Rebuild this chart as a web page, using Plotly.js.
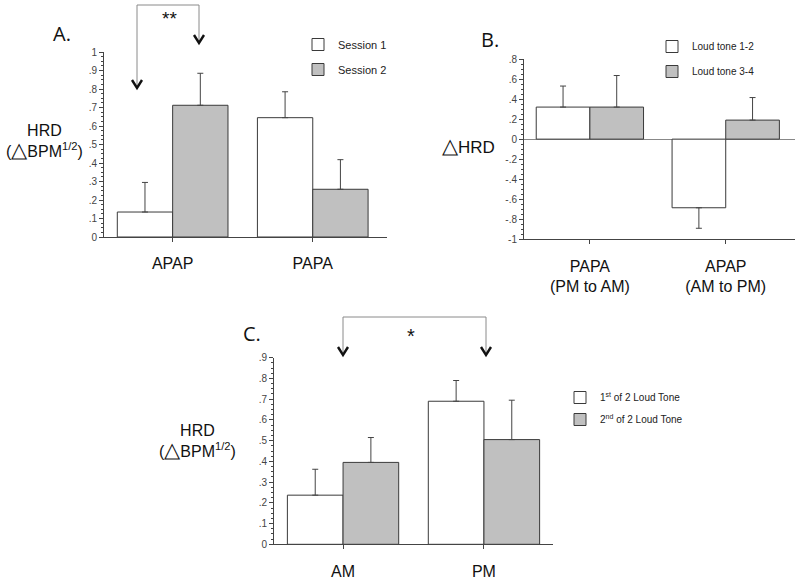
<!DOCTYPE html>
<html>
<head>
<meta charset="utf-8">
<script src="https://cdn.plot.ly/plotly-3.0.1.min.js"></script>
<style>html,body{margin:0;padding:0;background:#fff;}#chart{width:800px;height:579px;}</style>
</head>
<body>
<div id="chart"></div>
<script>
// ---------- data ----------
const catsA = ['APAP', 'PAPA'];
const sessA1 = [0.135, 0.645];
const sessA2 = [0.712, 0.258];
const errA1 = [0.16, 0.14];
const errA2 = [0.173, 0.16];

const catsB = ['PAPA<br>(PM to AM)', 'APAP<br>(AM to PM)'];
const toneB12 = [0.32, -0.685];
const toneB34 = [0.32, 0.19];
const errB12 = [0.21, 0.205];
const errB34 = [0.315, 0.225];

const catsC = ['AM', 'PM'];
const firstC = [0.237, 0.69];
const secondC = [0.395, 0.505];
const errC1 = [0.125, 0.10];
const errC2 = [0.12, 0.19];

const tickValsA = [0, 0.1, 0.2, 0.3, 0.4, 0.5, 0.6, 0.7, 0.8, 0.9, 1];
const tickTextA = ['0', '.1', '.2', '.3', '.4', '.5', '.6', '.7', '.8', '.9', '1'];
const tickValsB = [-1, -0.8, -0.6, -0.4, -0.2, 0, 0.2, 0.4, 0.6, 0.8];
const tickTextB = ['-1', '-.8', '-.6', '-.4', '-.2', '0', '.2', '.4', '.6', '.8'];
const tickValsC = [0, 0.1, 0.2, 0.3, 0.4, 0.5, 0.6, 0.7, 0.8, 0.9];
const tickTextC = ['0', '.1', '.2', '.3', '.4', '.5', '.6', '.7', '.8', '.9'];

// ---------- helpers ----------
const W = 800, H = 579;
const px = x => x / W;
const py = y => 1 - y / H;
const FONT = 'Liberation Sans';
const WHITE = '#ffffff', GRAY = '#c0c0c0', EDGE = '#3a3a3a', AX = '#444444';

function errUp(vals, errs) { return vals.map((v, i) => v >= 0 ? errs[i] : 0); }
function errDown(vals, errs) { return vals.map((v, i) => v < 0 ? errs[i] : 0); }

function barTrace(x, y, err, name, fill, xa, ya, lg, grp) {
  return {
    type: 'bar', x: x, y: y, name: name,
    xaxis: xa, yaxis: ya, legend: lg, legendgroup: grp,
    marker: {color: fill, line: {color: EDGE, width: 1}},
    error_y: {type: 'data', symmetric: false, array: errUp(y, err), arrayminus: errDown(y, err),
              color: AX, thickness: 1, width: 3},
    hoverinfo: 'skip'
  };
}

const data = [
  barTrace(catsA, sessA1, errA1, 'Session 1', WHITE, 'x', 'y', 'legend', 'a1'),
  barTrace(catsA, sessA2, errA2, 'Session 2', GRAY, 'x', 'y', 'legend', 'a2'),
  barTrace(catsB, toneB12, errB12, 'Loud tone 1-2', WHITE, 'x2', 'y2', 'legend2', 'b1'),
  barTrace(catsB, toneB34, errB34, 'Loud tone 3-4', GRAY, 'x2', 'y2', 'legend2', 'b2'),
  barTrace(catsC, firstC, errC1, '1<sup>st</sup> of 2 Loud Tone', WHITE, 'x3', 'y3', 'legend3', 'c1'),
  barTrace(catsC, secondC, errC2, '2<sup>nd</sup> of 2 Loud Tone', GRAY, 'x3', 'y3', 'legend3', 'c2')
];

function xAxis(domain, range, anchor) {
  return {
    domain: domain, range: range, anchor: anchor, type: 'category',
    showline: true, linecolor: AX, linewidth: 1, mirror: false,
    ticks: 'outside', ticklen: 4, tickcolor: AX, ticklabelstandoff: 8,
    tickfont: {family: FONT, size: 16, color: '#111'},
    showgrid: false, zeroline: false, fixedrange: true
  };
}
function yAxis(domain, range, anchor, tv, tt, minorStep, zl) {
  return {
    domain: domain, range: range, anchor: anchor,
    tickmode: 'array', tickvals: tv, ticktext: tt,
    showline: true, linecolor: AX, linewidth: 1,
    ticks: 'outside', ticklen: 4, tickcolor: AX,
    minor: {tickmode: 'linear', tick0: 0, dtick: minorStep, ticks: 'outside', ticklen: 2, tickcolor: AX},
    tickfont: {family: FONT, size: 10, color: '#444'},
    showgrid: false, zeroline: !!zl, zerolinecolor: '#888', zerolinewidth: 1, fixedrange: true
  };
}

const lineStyle = {color: '#8a8a8a', width: 1};
function seg(x0, y0, x1, y1) {
  return {type: 'line', xref: 'paper', yref: 'paper', x0: px(x0), y0: py(y0), x1: px(x1), y1: py(y1), line: lineStyle};
}
// chevron arrowhead pointing down with its tip at (x, y)
function chevron(x, y) {
  const p = 'M' + px(x - 5) + ',' + py(y - 8) + ' L' + px(x) + ',' + py(y) + ' L' + px(x + 5) + ',' + py(y - 8);
  return {type: 'path', xref: 'paper', yref: 'paper', path: p, line: {color: '#111', width: 2.4}};
}
function label(x, y, text, size, family, xanchor) {
  return {xref: 'paper', yref: 'paper', x: px(x), y: py(y), text: text, showarrow: false,
          xanchor: xanchor || 'center', yanchor: 'middle',
          font: {family: family || FONT, size: size, color: '#111'}};
}

const legendBase = {
  xanchor: 'left', yanchor: 'top', bgcolor: 'rgba(0,0,0,0)', borderwidth: 0,
  traceorder: 'grouped', itemclick: false, itemdoubleclick: false
};

const TRI = '<span style="font-size:21px">△</span>';

const layout = {
  width: W, height: H,
  margin: {l: 0, r: 0, t: 0, b: 0},
  paper_bgcolor: '#ffffff', plot_bgcolor: 'rgba(0,0,0,0)',
  barmode: 'group', bargap: 0.21, bargroupgap: 0,
  showlegend: true,
  xaxis: xAxis([px(104), px(387)], [-0.49, 1.53], 'y'),
  yaxis: yAxis([py(237), py(52)], [0, 1], 'x', tickValsA, tickTextA, 0.025, false),
  xaxis2: xAxis([px(524), px(795)], [-0.485, 1.51], 'y2'),
  yaxis2: yAxis([py(239.3), py(59)], [-1, 0.8], 'x2', tickValsB, tickTextB, 0.05, true),
  xaxis3: xAxis([px(274), px(553)], [-0.49, 1.49], 'y3'),
  yaxis3: yAxis([py(544.3), py(357.7)], [0, 0.9], 'x3', tickValsC, tickTextC, 0.025, false),
  legend: Object.assign({}, legendBase, {x: px(298), y: py(30), tracegroupgap: 6,
          font: {family: FONT, size: 11, color: '#222'}}),
  legend2: Object.assign({}, legendBase, {x: px(652), y: py(32), tracegroupgap: 6,
          font: {family: FONT, size: 10, color: '#222'}}),
  legend3: Object.assign({}, legendBase, {x: px(560), y: py(383), tracegroupgap: 3,
          font: {family: FONT, size: 10, color: '#222'}}),
  shapes: [
    seg(137, 5, 137, 86), seg(137, 5, 199, 5), seg(199, 5, 199, 41),
    seg(343, 317, 343, 352), seg(343, 317, 486, 317), seg(486, 317, 486, 352),
    chevron(137, 88), chevron(199, 43), chevron(343, 355), chevron(486, 355)
  ],
  annotations: [
    label(169, 19, '**', 19, FONT),
    label(411, 336, '*', 20, FONT),
    label(62, 34, 'A.', 20, 'Open Sans'),
    label(490, 40, 'B.', 20, 'Open Sans'),
    label(252, 333, 'C.', 20, 'Open Sans'),
    label(44, 141, 'HRD<br>(' + TRI + 'BPM<sup>1/2</sup>)', 16, FONT),
    label(468, 145, TRI + 'HRD', 17, FONT),
    label(197, 441, 'HRD<br>(' + TRI + 'BPM<sup>1/2</sup>)', 16, FONT)
  ]
};

Plotly.newPlot('chart', data, layout, {staticPlot: true, displayModeBar: false});
</script>
</body>
</html>
